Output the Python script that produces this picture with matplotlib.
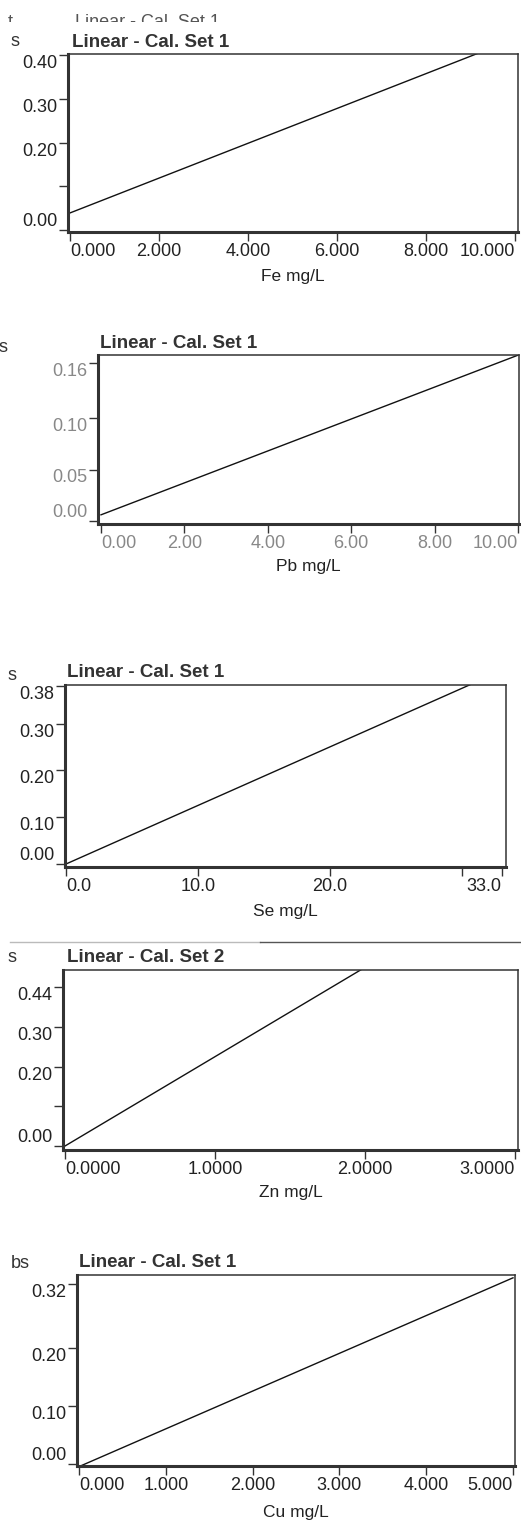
import numpy as np
import matplotlib.pyplot as plt
from matplotlib.patches import Rectangle
from matplotlib.lines import Line2D

plt.rcParams['font.family'] = ['Liberation Sans', 'DejaVu Sans']

"""Calibration lines read off the scanned printout"""

fe_conc = [0.0, 10.0]
fe_abs = [0.039, 0.437]
fe_xticks = [0, 2, 4, 6, 8, 10]
fe_xlabels = ['0.000', '2.000', '4.000', '6.000', '8.000', '10.000']
fe_yticks = [0.0, 0.1, 0.2, 0.3, 0.4]
fe_ylabels = ['0.00', '', '0.20', '0.30', '0.40']

pb_conc = [0.0, 10.0]
pb_abs = [0.006, 0.161]
pb_xticks = [0, 2, 4, 6, 8, 10]
pb_xlabels = ['0.00', '2.00', '4.00', '6.00', '8.00', '10.00']
pb_yticks = [0.0, 0.05, 0.10, 0.153]
pb_ylabels = ['0.00', '0.05', '0.10', '0.16']

se_conc = [0.0, 33.0]
se_abs = [0.0, 0.413]
se_xticks = [0, 10, 20, 30, 33]
se_xlabels = ['0.0', '10.0', '20.0', '', '33.0']
se_yticks = [0.0, 0.1, 0.2, 0.3, 0.38]
se_ylabels = ['0.00', '0.10', '0.20', '0.30', '0.38']

zn_conc = [0.0, 3.0]
zn_abs = [0.0, 0.675]
zn_xticks = [0, 1, 2, 3]
zn_xlabels = ['0.0000', '1.0000', '2.0000', '3.0000']
zn_yticks = [0.0, 0.1, 0.2, 0.3, 0.4]
zn_ylabels = ['0.00', '', '0.20', '0.30', '0.44']

cu_conc = [0.0, 5.0]
cu_abs = [-0.0045, 0.321]
cu_xticks = [0, 1, 2, 3, 4, 5]
cu_xlabels = ['0.000', '1.000', '2.000', '3.000', '4.000', '5.000']
cu_yticks = [0.0, 0.1, 0.2, 0.31]
cu_ylabels = ['0.00', '0.10', '0.20', '0.32']

W, H = 521, 1521
fig = plt.figure(figsize=(W / 100, H / 100), dpi=100)
fig.patch.set_facecolor('white')


def fx(x):
    return x / W


def fy(y):
    return 1 - y / H


def panel(box, cal, conc, absb, xticks, xlabels, yticks, ylabels,
          title, title_xy, frag, frag_xy, xlab, xlab_y, tcol='#222222'):
    x0, y0, x1, y1 = box
    xp0, xs, yp0, ys = cal
    ax = fig.add_axes([fx(x0), fy(y1), fx(x1 - x0), (y1 - y0) / H])
    ax.plot(conc, absb, color='#111111', lw=1.0)
    ax.set_xlim((x0 - xp0) / xs, (x1 - xp0) / xs)
    ax.set_ylim((yp0 - y1) / ys, (yp0 - y0) / ys)

    for side in ['left', 'bottom']:
        ax.spines[side].set_linewidth(2.2)
        ax.spines[side].set_color('#333333')
    for side in ['top', 'right']:
        ax.spines[side].set_linewidth(1.1)
        ax.spines[side].set_color('#333333')

    ax.set_xticks(xticks)
    ax.set_xticklabels(xlabels)
    ax.set_yticks(yticks)
    ax.set_yticklabels(ylabels)
    ax.tick_params(axis='both', direction='out', length=6.5, width=1.0,
                   color='#333333', labelsize=13, labelcolor=tcol)
    ax.tick_params(axis='y', pad=1)
    ax.tick_params(axis='x', pad=1.5)

    xl = ax.get_xticklabels()
    xl[0].set_ha('left')
    xl[-1].set_ha('right')
    for i, lbl in enumerate(ax.get_yticklabels()):
        lbl.set_va('bottom' if i == 0 else 'top')

    fig.text(fx(title_xy[0]), fy(title_xy[1]), title, fontsize=13.5,
             fontweight='bold', color='#333333', va='baseline', ha='left')
    fig.text(fx(frag_xy[0]), fy(frag_xy[1]), frag, fontsize=13,
             color='#333333', va='center', ha='center')
    fig.text(fx((x0 + x1) / 2), fy(xlab_y), xlab, fontsize=12.5,
             color='#222222', va='center', ha='center')
    return ax


panel((68, 54, 518, 232), (70, 44.5, 230, 437.5), fe_conc, fe_abs,
      fe_xticks, fe_xlabels, fe_yticks, fe_ylabels,
      'Linear - Cal. Set 1', (72, 47), 's', (15, 42), 'Fe mg/L', 277)

panel((98, 355, 519, 524), (101, 41.7, 521, 1030), pb_conc, pb_abs,
      pb_xticks, pb_xlabels, pb_yticks, pb_ylabels,
      'Linear - Cal. Set 1', (100, 348), 's', (3, 347), 'Pb mg/L', 567,
      tcol='#888888')

panel((65, 685, 506, 867), (66, 13.2, 864, 468), se_conc, se_abs,
      se_xticks, se_xlabels, se_yticks, se_ylabels,
      'Linear - Cal. Set 1', (67, 677), 's', (12, 675), 'Se mg/L', 912)

panel((63, 970, 518, 1150), (65, 150, 1146, 397), zn_conc, zn_abs,
      zn_xticks, zn_xlabels, zn_yticks, zn_ylabels,
      'Linear - Cal. Set 2', (67, 962), 's', (12, 958), 'Zn mg/L', 1193)

panel((77, 1275, 515, 1466), (79, 86.8, 1464, 580), cu_conc, cu_abs,
      cu_xticks, cu_xlabels, cu_yticks, cu_ylabels,
      'Linear - Cal. Set 1', (79, 1267), 'bs', (20, 1263), 'Cu mg/L', 1513)

# title of the previous page, half hidden under the next sheet
fig.text(fx(75), fy(27), 'Linear - Cal. Set 1', fontsize=13, color='#555555',
         va='baseline', ha='left')
fig.text(fx(10), fy(27), 't', fontsize=13, color='#555555',
         va='baseline', ha='center')
fig.patches.append(Rectangle((0, fy(31)), fx(300), fy(21.5) - fy(31),
                             transform=fig.transFigure, facecolor='white',
                             edgecolor='none', zorder=5))

# paper edge above the Zn plot
fig.add_artist(Line2D([fx(10), fx(260)], [fy(942), fy(942)],
                      color='#bbbbbb', lw=1.0))
fig.add_artist(Line2D([fx(260), fx(521)], [fy(942), fy(942)],
                      color='#555555', lw=1.0))

plt.savefig('out.png', dpi=100)
